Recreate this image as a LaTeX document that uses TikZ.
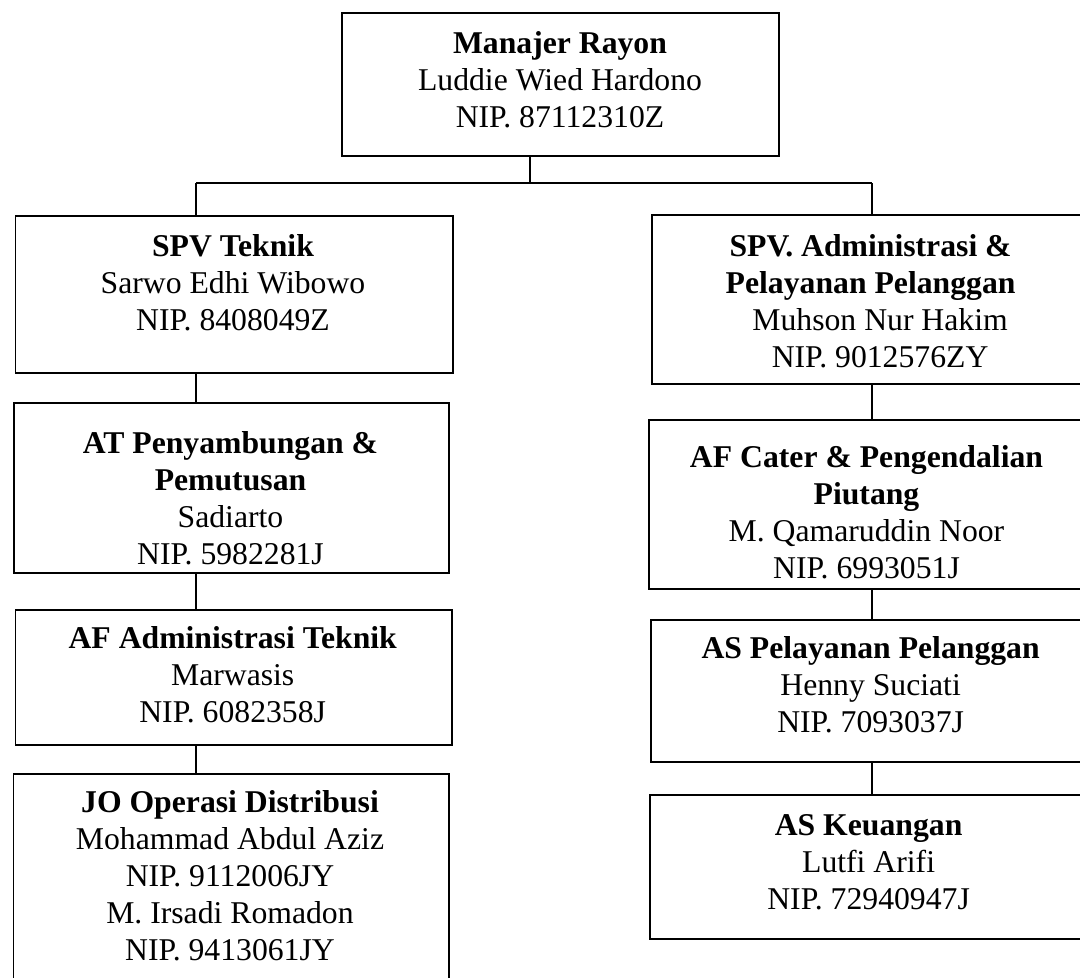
\documentclass[tikz,border=0pt]{standalone}
\usepackage{fontspec}
\setmainfont{Liberation Serif}
\newcommand\firstl{\rule{0pt}{24pt}}
\tikzset{
  box/.style={draw=black, line width=1.6pt, inner sep=0pt, anchor=north west, rectangle},
  txt/.style={anchor=north, inner sep=0pt, align=center, font=\fontsize{31.7pt}{37pt}\selectfont},
  conn/.style={draw=black, line width=1.6pt}
}
\begin{document}
\begin{tikzpicture}[x=1pt, y=-1pt]
\useasboundingbox (0,0) rectangle (1080,978);
\clip (0,0) rectangle (1080,978);
\fill[white] (0,0) rectangle (1080,978);
% boxes
\node[box, minimum width=437pt, minimum height=143pt] (top) at (341,12) {};
\node[box, minimum width=437.5pt, minimum height=157pt] (spvt) at (14.5,215) {};
\node[box, minimum width=435pt, minimum height=170pt] (at) at (13,402) {};
\node[box, minimum width=436.5pt, minimum height=135pt] (afa) at (14.5,609) {};
\node[box, minimum width=435.5pt, minimum height=230pt] (jo) at (12.5,773) {};
\node[box, minimum width=438pt, minimum height=169pt] (spva) at (651,214) {};
\node[box, minimum width=440pt, minimum height=169pt] (afc) at (648,419) {};
\node[box, minimum width=438pt, minimum height=142pt] (asp) at (650,619) {};
\node[box, minimum width=439pt, minimum height=144pt] (ask) at (649,794) {};
% texts
\node[txt] (topt) at (560,29) {\firstl\textbf{Manajer Rayon}\\Luddie Wied Hardono\\NIP. 87112310Z};
\node[txt] (spvtt) at (233,232) {\firstl\textbf{SPV Teknik}\\Sarwo Edhi Wibowo\\NIP. 8408049Z};
\node[txt] (att) at (230.5,429) {\firstl\textbf{AT Penyambungan \&}\\\textbf{Pemutusan}\\Sadiarto\\NIP. 5982281J};
\node[txt] (afat) at (232.7,624) {\firstl\textbf{AF Administrasi Teknik}\\Marwasis\\NIP. 6082358J};
\node[txt] (jot) at (230,788) {\firstl\textbf{JO Operasi Distribusi}\\Mohammad Abdul Aziz\\NIP. 9112006JY\\M. Irsadi Romadon\\NIP. 9413061JY};
\node[txt] (spvat) at (870.6,232) {\firstl\textbf{SPV. Administrasi \&}\\\textbf{Pelayanan Pelanggan}\\\hspace*{19pt}Muhson Nur Hakim\\\hspace*{19pt}NIP. 9012576ZY};
\node[txt] (afct) at (866.5,443) {\firstl\textbf{AF Cater \& Pengendalian}\\\textbf{Piutang}\\M. Qamaruddin Noor\\NIP. 6993051J};
\node[txt] (aspt) at (870.6,634) {\firstl\textbf{AS Pelayanan Pelanggan}\\Henny Suciati\\NIP. 7093037J};
\node[txt] (askt) at (868.6,811) {\firstl\textbf{AS Keuangan}\\Lutfi Arifi\\NIP. 72940947J};
% connectors
\coordinate (bm) at (530,183);
\coordinate (bl) at (196,183);
\coordinate (br) at (872,183);
\draw[conn] (top.south -| bm) -- (bm);
\draw[conn] (bl) -- (br);
\draw[conn] (bl) -- (bl |- spvt.north);
\draw[conn] (br) -- (br |- spva.north);
\draw[conn] (spvt.south -| bl) -- (at.north -| bl);
\draw[conn] (at.south -| bl) -- (afa.north -| bl);
\draw[conn] (afa.south -| bl) -- (jo.north -| bl);
\draw[conn] (spva.south -| br) -- (afc.north -| br);
\draw[conn] (afc.south -| br) -- (asp.north -| br);
\draw[conn] (asp.south -| br) -- (ask.north -| br);
\end{tikzpicture}
\end{document}
